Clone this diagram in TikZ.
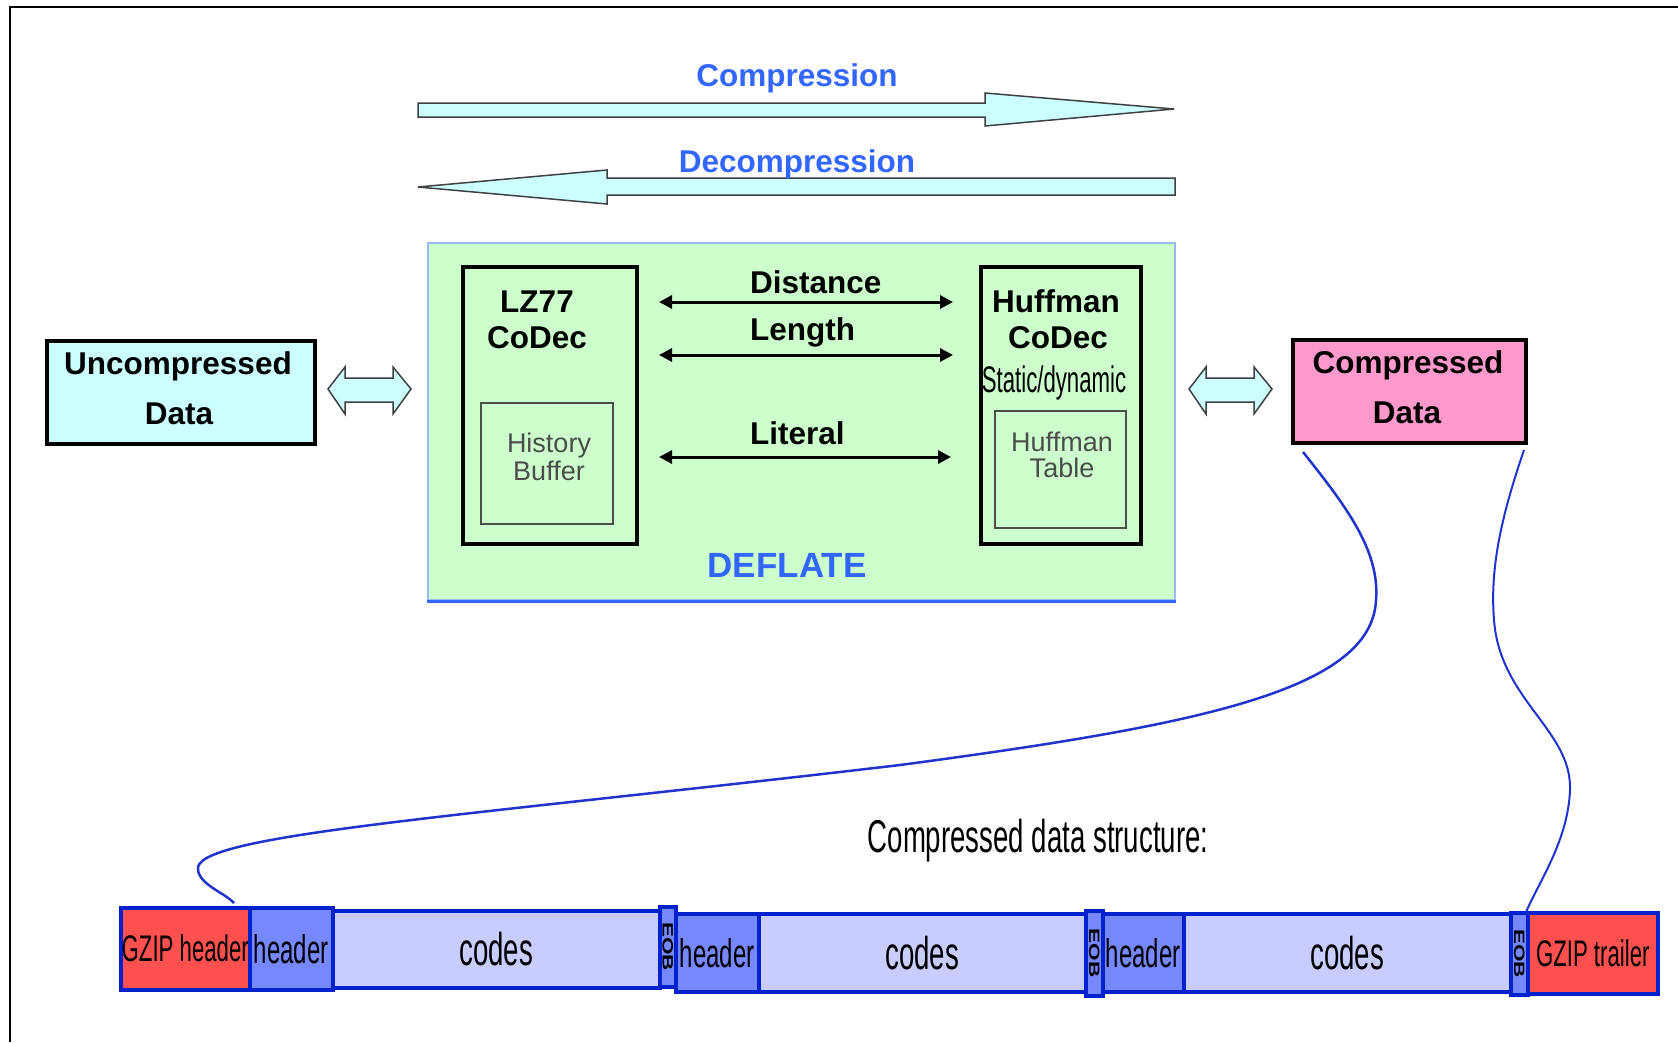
\documentclass[tikz,border=0pt]{standalone}
\usepackage{fontspec}
\setmainfont{Liberation Sans}
\newfontfamily\narrowfont[FakeStretch=0.6]{Liberation Sans}
\usetikzlibrary{arrows.meta,calc}

\newcommand\setfs[1]{\fontsize{#1}{#1}\selectfont}

\definecolor{cyanfill}{HTML}{CCFFFF}
\definecolor{deflfill}{HTML}{CCFFCC}
\definecolor{deflline}{HTML}{99BBEE}
\definecolor{titleblue}{HTML}{3366FF}
\definecolor{pinkfill}{HTML}{FF99CC}
\definecolor{linkblue}{HTML}{2233CC}
\definecolor{gzipred}{HTML}{FF5050}
\definecolor{hdrblue}{HTML}{7788FF}
\definecolor{codesblue}{HTML}{C8CCFF}
\definecolor{cellline}{HTML}{0022CC}

\begin{document}
\begin{tikzpicture}[x=1pt,y=-1pt,
  flowshape/.style={fill=cyanfill, draw=black!75, line width=1.5pt, line join=miter},
  titletext/.style={text=titleblue, font=\bfseries\setfs{31.5}, inner sep=0, anchor=base},
  boldlabel/.style={font=\bfseries\setfs{31.5}, inner sep=0, anchor=base},
  thinlabel/.style={text=black!70, font=\setfs{27}, inner sep=0, anchor=base},
  codecbox/.style={draw, line width=4pt, inner sep=0, anchor=north west},
  memobox/.style={draw=black!70, line width=1.5pt, inner sep=0, anchor=north west},
  databox/.style={draw, line width=4pt, inner sep=0, anchor=north west},
  cell/.style={draw=cellline, line width=3.5pt, inner sep=0, anchor=north west},
  biarrow/.style={{Triangle[length=13pt,width=13pt]}-{Triangle[length=13pt,width=13pt]}, line width=3pt},
  link/.style={draw=linkblue, line width=2.5pt}
]
\useasboundingbox (0,0) rectangle (1678,1042);
\fill[white] (0,0) rectangle (1678,1042);
\draw[line width=2.5pt] (10,1042) -- (10,7) -- (1678,7);

% direction arrows
\filldraw[flowshape] (418,103) -- (985,103) -- (985,93) -- (1174,109) -- (985,126) -- (985,117) -- (418,117) -- cycle;
\node[titletext] (tcomp) at (797,86) {Compression};
\filldraw[flowshape] (1175,178) -- (607,178) -- (607,170) -- (418,187) -- (607,204) -- (607,195) -- (1175,195) -- cycle;
\node[titletext] (tdecomp) at (797,172) {Decompression};

% DEFLATE block
\node[draw=deflline, fill=deflfill, line width=2pt, minimum width=747pt, minimum height=357pt, anchor=north west, inner sep=0] (defl) at (427,242) {};
\draw[titleblue, line width=3pt] (defl.south west) -- (defl.south east);
\node[text=titleblue, font=\bfseries\setfs{35}, inner sep=0, anchor=base] (tdefl) at (787,577) {DEFLATE};

\node[codecbox, minimum width=174pt, minimum height=277pt] (lz) at (461,265) {};
\node[memobox, minimum width=132pt, minimum height=121pt] (hist) at (480,402) {};
\node[boldlabel] (lzA) at (537,312) {LZ77};
\node[boldlabel] (lzB) at (537,348) {CoDec};
\node[thinlabel] (histA) at (549,452) {History};
\node[thinlabel] (histB) at (549,480) {Buffer};

\node[codecbox, minimum width=160pt, minimum height=277pt] (hf) at (979,265) {};
\node[memobox, minimum width=131pt, minimum height=117pt] (tab) at (994,410) {};
\node[boldlabel] (hfA) at (1056,312) {Huffman};
\node[boldlabel] (hfB) at (1058,348) {CoDec};
\node[font=\narrowfont\setfs{37}, inner sep=0, anchor=base] (hfC) at (1054,392) {Static/dynamic};
\node[thinlabel] (tabA) at (1062,451) {Huffman};
\node[thinlabel] (tabB) at (1062,477) {Table};

% symbols exchanged between the two codecs
\draw[biarrow, shorten <=20pt, shorten >=26pt] (lz.east |- 0,302) -- (hf.west |- 0,302);
\draw[biarrow, shorten <=20pt, shorten >=26pt] (lz.east |- 0,355) -- (hf.west |- 0,355);
\draw[biarrow, shorten <=20pt, shorten >=28pt] (lz.east |- 0,457) -- (hf.west |- 0,457);
\node[boldlabel, anchor=base west] (tdist) at (750,293) {Distance};
\node[boldlabel, anchor=base west] (tlen) at (750,340) {Length};
\node[boldlabel, anchor=base west] (tlit) at (750,444) {Literal};

% data on both sides
\node[databox, fill=cyanfill, minimum width=268pt, minimum height=103pt] (unc) at (45,339) {};
\node[boldlabel] (uncA) at (178,374) {Uncompressed};
\node[boldlabel] (uncB) at (179,424) {Data};
\node[databox, fill=pinkfill, minimum width=233pt, minimum height=103pt] (comp) at (1291,338) {};
\node[boldlabel] (compA) at (1408,373) {Compressed};
\node[boldlabel] (compB) at (1407,423) {Data};

\filldraw[flowshape] (328,389) -- (345,367) -- (345,378) -- (393,378) -- (393,367) -- (411,389) -- (393,414) -- (393,402) -- (345,402) -- (345,414) -- cycle;
\filldraw[flowshape] (1189,389) -- (1206,367) -- (1206,378) -- (1254,378) -- (1254,367) -- (1272,389) -- (1254,414) -- (1254,402) -- (1206,402) -- (1206,414) -- cycle;

% compressed stream layout
\node[font=\narrowfont\setfs{46}, inner sep=0, anchor=base] (tstruct) at (1038,852) {Compressed data structure:};

\node[cell, fill=gzipred, minimum width=129pt, minimum height=82pt, font=\narrowfont\setfs{37}] (gzh) at (119,906) {GZIP header};
\node[cell, fill=hdrblue, minimum width=83pt, minimum height=82pt, font=\narrowfont\setfs{40}] (h1) at (248,906) {header};
\node[cell, fill=codesblue, minimum width=327pt, minimum height=77pt, font=\narrowfont\setfs{46}] (c1) at (331,909) {codes};
\node[cell, fill=hdrblue, minimum width=83pt, minimum height=78pt, font=\narrowfont\setfs{40}] (h2) at (674,912) {header};
\node[cell, fill=codesblue, minimum width=327pt, minimum height=78pt, font=\narrowfont\setfs{46}] (c2) at (757,912) {codes};
\node[cell, fill=hdrblue, minimum width=81pt, minimum height=78pt, font=\narrowfont\setfs{40}] (h3) at (1101,912) {header};
\node[cell, fill=codesblue, minimum width=327pt, minimum height=78pt, font=\narrowfont\setfs{46}] (c3) at (1182,912) {codes};
\node[cell, fill=gzipred, minimum width=130pt, minimum height=81pt, font=\narrowfont\setfs{37}] (gzt) at (1526,911) {GZIP trailer};
\node[cell, fill=hdrblue, minimum width=16pt, minimum height=80pt] (e1) at (658,905) {};
\node[cell, fill=hdrblue, minimum width=17pt, minimum height=85pt] (e2) at (1084,909) {};
\node[cell, fill=hdrblue, minimum width=17pt, minimum height=82pt] (e3) at (1509,911) {};
\foreach \e in {e1,e2,e3}
  \node[rotate=-90, inner sep=0, font=\bfseries\setfs{15}] at (\e.center) {\scalebox{1.5}[1]{EOB}};

% links from the compressed data to its stream
\draw[link] ($(comp.south west)+(12,7)$) .. controls (1345,505) and (1380,550) .. (1376,600)
  .. controls (1372,690) and (1200,725) .. (900,765)
  .. controls (450,818) and (190,835) .. (198,870)
  .. controls (200,885) and (225,893) .. ($(gzh.north west)+(115,-3)$);
\draw[link, line width=2pt] ($(comp.south east)+(-4,5)$) .. controls (1500,520) and (1490,570) .. (1494,620)
  .. controls (1500,700) and (1572,730) .. (1570,790)
  .. controls (1568,840) and (1540,880) .. ($(gzt.north west)+(0,1)$);
\end{tikzpicture}
\end{document}
